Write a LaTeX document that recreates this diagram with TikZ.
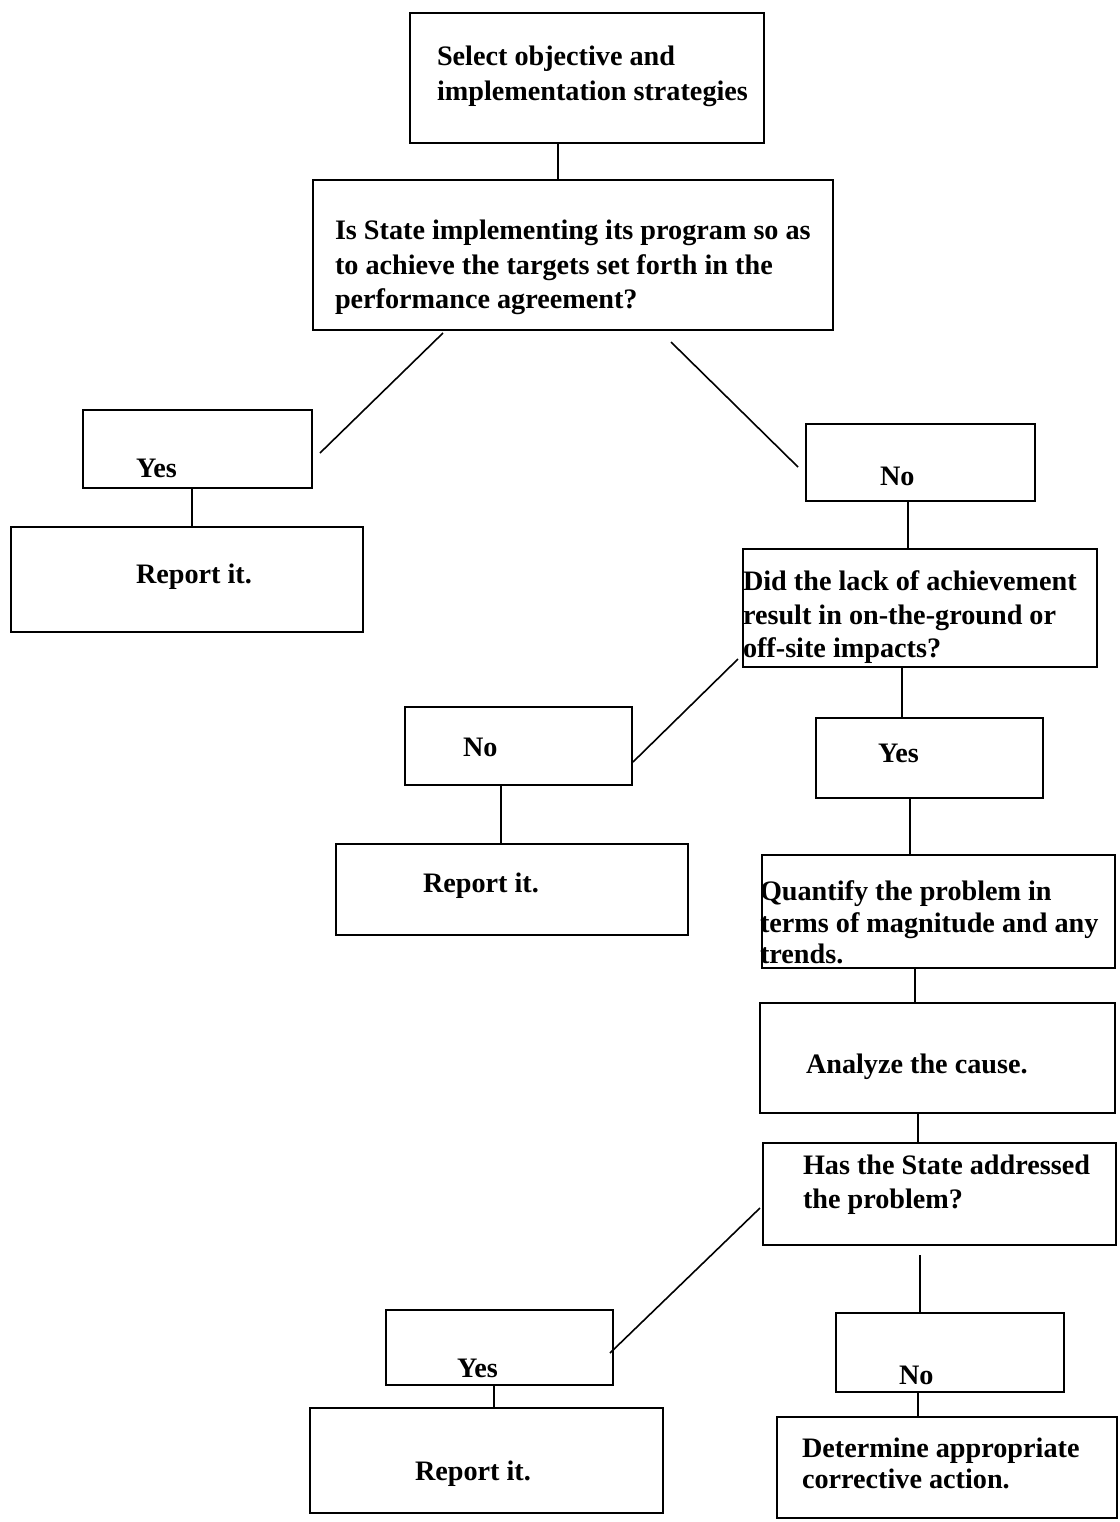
\documentclass[tikz,border=0pt]{standalone}
\usepackage{fontspec}
\setmainfont{Liberation Serif}
\newcommand\mkbox[5]{\node[box, minimum width={(#4-#2)*0.5pt}, minimum height={(#5-#3)*0.5pt}] (#1) at ({(#2+#4)/2},{(#3+#5)/2}) {};}
\begin{document}
\begin{tikzpicture}[x=0.5pt,y=-0.5pt,
  box/.style={draw, line width=0.9pt, inner sep=0pt, outer sep=0pt},
  lbl/.style={anchor=base west, inner sep=0pt, outer sep=0pt, font=\bfseries\fontsize{14.1}{17}\selectfont},
  link/.style={draw, line width=0.8pt}]
\useasboundingbox (0,0) rectangle (1120,1522);
% boxes
\mkbox{top}{410}{13}{764}{143}
\mkbox{q1}{313}{180}{833}{330}
\mkbox{yes1}{83}{410}{312}{488}
\mkbox{rep1}{11}{527}{363}{632}
\mkbox{no1}{806}{424}{1035}{501}
\mkbox{q2}{743}{549}{1097}{667}
\mkbox{no2}{405}{707}{632}{785}
\mkbox{rep2}{336}{844}{688}{935}
\mkbox{yes2}{816}{718}{1043}{798}
\mkbox{quant}{762}{855}{1115}{968}
\mkbox{anal}{760}{1003}{1115}{1113}
\mkbox{has}{763}{1143}{1116}{1245}
\mkbox{yes3}{386}{1310}{613}{1385}
\mkbox{rep3}{310}{1408}{663}{1513}
\mkbox{no3}{836}{1313}{1064}{1392}
\mkbox{det}{777}{1417}{1117}{1518}
% texts
\node[lbl] (t1a) at (437,65) {Select objective and};
\node[lbl] (t1b) at (437,100) {implementation strategies};
\node[lbl] (t2a) at (335,239) {Is State implementing its program so as};
\node[lbl] (t2b) at (335,274) {to achieve the targets set forth in the};
\node[lbl] (t2c) at (335,308) {performance agreement?};
\node[lbl] (t3) at (136,477) {Yes};
\node[lbl] (t4) at (136,583) {Report it.};
\node[lbl] (t5) at (880,485) {No};
\node[lbl] (t6a) at (743,590) {Did the lack of achievement};
\node[lbl] (t6b) at (743,624) {result in on-the-ground or};
\node[lbl] (t6c) at (743,657) {off-site impacts?};
\node[lbl] (t7) at (463,756) {No};
\node[lbl] (t8) at (423,892) {Report it.};
\node[lbl] (t9) at (878,762) {Yes};
\node[lbl] (t10a) at (760,900) {Quantify the problem in};
\node[lbl] (t10b) at (760,932) {terms of magnitude and any};
\node[lbl] (t10c) at (760,963) {trends.};
\node[lbl] (t11) at (806,1073) {Analyze the cause.};
\node[lbl] (t12a) at (803,1174) {Has the State addressed};
\node[lbl] (t12b) at (803,1208) {the problem?};
\node[lbl] (t13) at (457,1377) {Yes};
\node[lbl] (t14) at (415,1480) {Report it.};
\node[lbl] (t15) at (899,1384) {No};
\node[lbl] (t16a) at (802,1457) {Determine appropriate};
\node[lbl] (t16b) at (802,1488) {corrective action.};
% connectors
\draw[link] ([xshift=-14.5pt]top.south) -- ([xshift=-7.5pt]q1.north);
\draw[link] ([xshift=-65pt,yshift=-1.5pt]q1.south) -- ([xshift=4pt,yshift=-2pt]yes1.east);
\draw[link] ([xshift=49pt,yshift=-6pt]q1.south) -- ([xshift=-4pt,yshift=-2.25pt]no1.west);
\draw[link] ([xshift=-2.75pt]yes1.south) -- ([xshift=2.5pt]rep1.north);
\draw[link] ([xshift=-6.25pt]no1.south) -- ([xshift=-6pt]q2.north);
\draw[link] ([xshift=-2.5pt,yshift=-25.5pt]q2.west) -- ([xshift=0.5pt,yshift=-8pt]no2.east);
\draw[link] ([xshift=-9pt]q2.south) -- ([xshift=-13.75pt]yes2.north);
\draw[link] ([xshift=-8.75pt]no2.south) -- ([xshift=-5.5pt]rep2.north);
\draw[link] ([xshift=-9.75pt]yes2.south) -- ([xshift=-14.25pt]quant.north);
\draw[link] ([xshift=-11.75pt]quant.south) -- ([xshift=-11.25pt]anal.north);
\draw[link] ([xshift=-9.75pt]anal.south) -- ([xshift=-10.75pt]has.north);
\draw[link] ([xshift=-1.5pt,yshift=-7pt]has.west) -- ([xshift=-1.5pt,yshift=-2.75pt]yes3.east);
\draw[link] ([xshift=-9.75pt,yshift=-5pt]has.south) -- ([xshift=-15pt]no3.north);
\draw[link] ([xshift=-2.75pt]yes3.south) -- ([xshift=3.75pt]rep3.north);
\draw[link] ([xshift=-16pt]no3.south) -- ([xshift=-14.5pt]det.north);
\end{tikzpicture}
\end{document}
